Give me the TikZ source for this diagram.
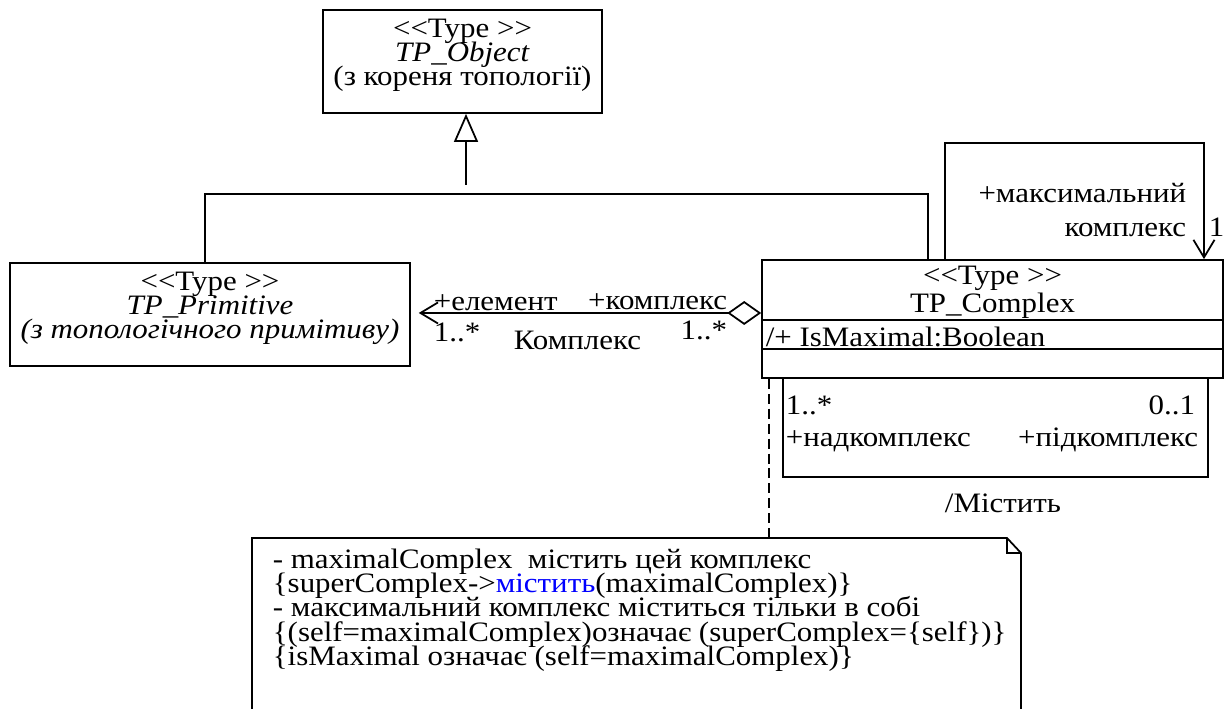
\documentclass[tikz,border=0pt]{standalone}
\usepackage{fontspec}
\setmainfont{Liberation Serif}[FakeStretch=1.1]
\usetikzlibrary{arrows.meta, positioning}
\definecolor{linkblue}{RGB}{0,0,255}
% fixed baseline distance, even when lines touch
\newcommand\tightlines{\lineskiplimit=-100pt\relax}

\begin{document}
\begin{tikzpicture}[x=0.02cm, y=-0.02cm, line width=1pt,
  font=\fontsize{16}{13.8}\selectfont\tightlines,
  typebox/.style={rectangle, draw=black, inner sep=0pt},
  title/.style={align=center, inner sep=0pt},
  lbl/.style={inner sep=0pt, anchor=base west},
  rlbl/.style={inner sep=0pt, anchor=base east},
  generalize/.style={-{Triangle[open, length=15.9pt, width=13.6pt]}},
  navigate/.style={-{Straight Barb[length=10pt, width=12pt]}},
  aggregate/.style={{Diamond[open, length=19.3pt, width=13.6pt]}-{Straight Barb[length=10pt, width=12pt]}},
  noteline/.style={dash pattern=on 5.7pt off 2.8pt}]

  \useasboundingbox (0,0) rectangle (1228,709);

  % Classes
  \node (object) [typebox, minimum width=5.58cm, minimum height=2.06cm] at (462.5,61.5) {};
  \node (objecttitle) [title] at (462.5,55.3) {<{}<Type >{}>\\\textit{TP\_Object}\\(з кореня топології)};

  \node (primitive) [typebox, minimum width=8cm, minimum height=2.06cm] at (210,314.5) {};
  \node (primitivetitle) [title] at (210,308.3) {<{}<Type >{}>\\\textit{TP\_Primitive}\\\textit{(з топологічного примітиву)}};

  \node (complex) [typebox, minimum width=9.22cm, minimum height=2.36cm] at (992.5,319) {};
  \node (complextitle) [title] at (992.5,292.7) {<{}<Type >{}>\\[2.1pt]TP\_Complex};
  \node (attr) [lbl] at (765,347) {/+ IsMaximal:Boolean};
  \draw (complex.west |- 0,320) -- (complex.east |- 0,320);
  \draw (complex.west |- 0,349) -- (complex.east |- 0,349);

  % Generalization
  \coordinate (genstem) at (466,185);
  \coordinate (genbar) at (466,194);
  \draw [generalize] (genstem) -- (genstem |- object.south);
  \draw (primitive.north -| 205,0) |- (genbar) -| (complex.north -| 928,0);

  % Association Комплекс
  \coordinate (aggend) at (complex.west |- 0,313);
  \draw [aggregate, shorten >=4.5pt] (aggend) -- (primitive.east |- aggend);
  \node (elrole) [lbl] at (433,311) {+елемент};
  \node (elmult) [lbl] at (433,342) {1..*};
  \node (cxrole) [rlbl] at (728,310) {+комплекс};
  \node (cxmult) [rlbl] at (728,340) {1..*};
  \node (assocname) [lbl] at (513,350) {Комплекс};

  % Self association: maximal complex
  \coordinate (maxcorner) at (1204,143);
  \draw [navigate] (complex.north -| 945,0) |- (maxcorner) -- (complex.north -| maxcorner);
  \node (maxrole) [rlbl] at (1187,203) {+максимальний};
  \node (maxrole2) [rlbl] at (1187,237) {комплекс};
  \node (maxmult) [lbl] at (1208,237) {1};

  % Self association: Містить
  \coordinate (subcorner) at (1208,477);
  \draw (complex.south -| 783,0) |- (subcorner) -- (complex.south -| subcorner);
  \node (supmult) [lbl] at (785,415) {1..*};
  \node (submult) [rlbl] at (1196,415) {0..1};
  \node (suprole) [lbl] at (785,447) {+надкомплекс};
  \node (subrole) [rlbl] at (1199,447) {+підкомплекс};
  \node (subname) [inner sep=0pt, anchor=base] at (1003,513) {/Містить};

  % Note
  \coordinate (notetop) at (769,538);
  \draw [noteline] (complex.south -| notetop) -- (notetop);
  \draw (252,709) -- (252,538) -- (1007,538) -- (1021,553) -- (1021,709);
  \draw (1007,538) -- (1007,553) -- (1021,553);
  \node (notetext) [align=left, inner sep=0pt, anchor=north west] at (272,548)
    {- maximalComplex\ \ містить цей комплекс\\
     \{superComplex->\textcolor{linkblue}{містить}(maximalComplex)\}\\
     - максимальний комплекс міститься тільки в собі\\
     \{(self=maximalComplex)означає (superComplex=\{self\})\}\\
     \{isMaximal означає (self=maximalComplex)\}};
\end{tikzpicture}
\end{document}
